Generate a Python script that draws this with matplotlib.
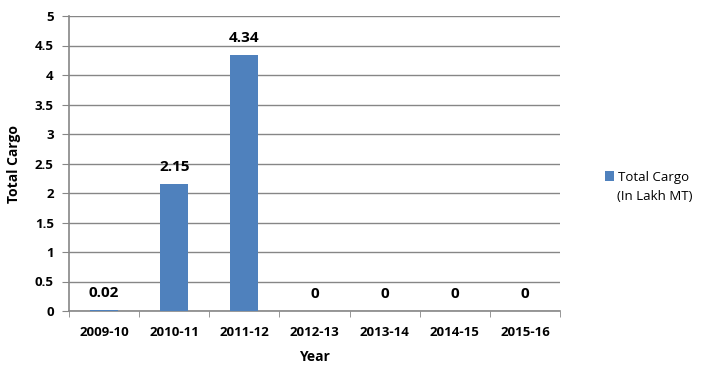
import numpy as np
import matplotlib.pyplot as plt
from matplotlib.patches import Patch

years = ['2009-10', '2010-11', '2011-12', '2012-13', '2013-14', '2014-15', '2015-16']
cargo = [0.02, 2.15, 4.34, 0, 0, 0, 0]
value_labels = ['0.02', '2.15', '4.34', '0', '0', '0', '0']

plt.rcParams['font.family'] = ['Open Sans', 'DejaVu Sans']

fig = plt.figure(figsize=(7.24, 3.65), dpi=100)
fig.patch.set_facecolor('white')
ax = fig.add_axes([69 / 724, 1 - 311 / 365, (560 - 69) / 724, (311 - 16) / 365])

x = np.arange(len(years))
bars = ax.bar(x, cargo, width=0.4, color='#4f81bd', zorder=3)

# value labels above bars
for xi, val, lab in zip(x, cargo, value_labels):
    ax.text(xi, val + 0.17, lab, ha='center', va='bottom', fontsize=11,
            fontweight='bold', color='black')

ax.set_xlim(-0.5, len(years) - 0.5)
ax.set_ylim(0, 5)
ax.set_yticks(np.arange(0, 5.01, 0.5))
ax.set_yticklabels(['0', '0.5', '1', '1.5', '2', '2.5', '3', '3.5', '4', '4.5', '5'],
                   fontsize=9.5, fontweight='bold')
ax.set_xticks(x)
ax.set_xticklabels(years, fontsize=9.5, fontweight='bold')
ax.tick_params(axis='x', length=0, pad=11)
ax.set_xticks(np.arange(-0.5, len(years)), minor=True)
ax.tick_params(axis='x', which='minor', length=4, color='#868686')
ax.tick_params(axis='y', length=5, color='#868686', pad=6)

ax.yaxis.grid(True, color='#868686', linewidth=1, zorder=0)
for side in ['top', 'right']:
    ax.spines[side].set_visible(False)
for side in ['left', 'bottom']:
    ax.spines[side].set_color('#868686')
    ax.spines[side].set_linewidth(1.2)

ax.set_xlabel('Year', fontsize=10, fontweight='bold', labelpad=8)
ax.set_ylabel('Total Cargo', fontsize=10, fontweight='bold', labelpad=10)

# legend: square with first line, second line as plain text below
handle = Patch(facecolor='#4f81bd')
fig.legend([handle], ['Total Cargo'], loc='center left',
           bbox_to_anchor=(596 / 724, 1 - 177 / 365), frameon=False,
           fontsize=9.5, handlelength=0.7, handleheight=0.7, handletextpad=0.3,
           borderpad=0.2)
fig.text(617 / 724, 1 - 196 / 365, '(In Lakh MT)', fontsize=9.5,
         ha='left', va='center')

plt.savefig('out.png', dpi=100)
